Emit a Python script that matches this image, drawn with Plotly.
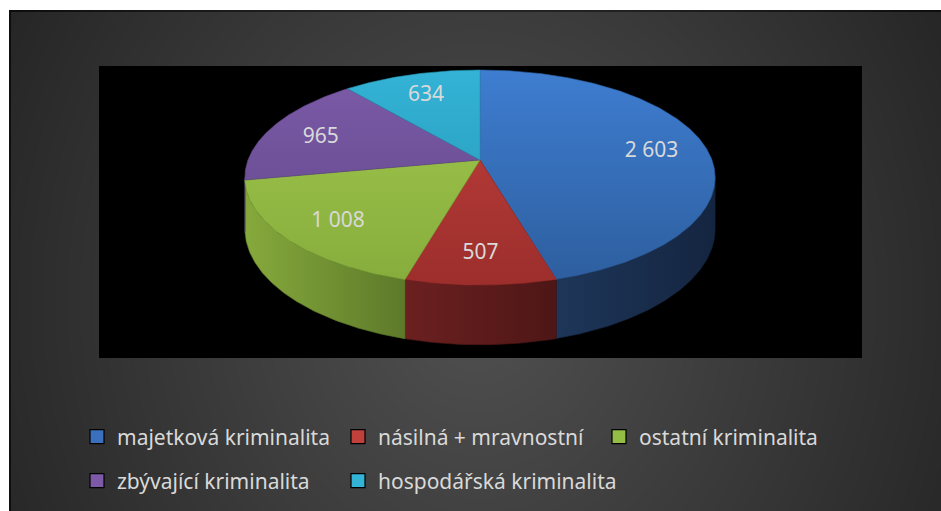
import numpy as np
import plotly.graph_objects as go

# ---------------- data ----------------
categories = ["majetková kriminalita", "násilná + mravnostní", "ostatní kriminalita",
              "zbývající kriminalita", "hospodářská kriminalita"]
values = [2603, 507, 1008, 965, 634]

# ---------------- styles ----------------
top_light = ["#3e7dd0", "#c0403c", "#a2c84e", "#7c5aa8", "#33b3d6"]
top_dark = ["#2d5e9e", "#9c2e2c", "#86ad3c", "#5f4787", "#2592b0"]
wall_light = ["#1e3659", "#6c2020", "#86a93c", "#5a3f80", "#1f7f99"]
wall_dark = ["#142540", "#4e1616", "#5d7a2a", "#3d2a5a", "#15607a"]
legend_colors = ["#3a70bd", "#c0403c", "#94bd45", "#7c5aa8", "#33b3d6"]
legend_slots = ["legend", "legend", "legend", "legend2", "legend3"]
text_color = "#d9d9d9"
FONT = "Noto Sans"

W, H = 941, 511
CX, CY = 480.0, 160.0      # pie vertex on screen
RX, RY = 232.0, 104.7      # top face radii
P = 0.163                  # perspective strength
DEPTH = 50.0               # pie thickness


def project(theta, r=1.0, z=0.0):
    theta = np.asarray(theta, dtype=float)
    u = r * np.sin(theta)
    v = -r * np.cos(theta)
    s = 1.0 / (1.0 - P * v)
    return CX + RX * u * s, CY + RY * v * s + z * s


# silhouette extremes (front-facing wall range)
grid = np.linspace(0, 2 * np.pi, 3601)
gx, _ = project(grid)
th_right = grid[np.argmax(gx)]
th_left = grid[np.argmin(gx)]

total = float(sum(values))
bounds = np.concatenate([[0.0], np.cumsum(values) / total * 2 * np.pi])

fig = go.Figure()

# ---------------- background (decoration) ----------------
shapes = []
shapes.append(dict(type="rect", xref="x", yref="y", x0=10, y0=11, x1=W + 5, y1=H + 5,
                   fillcolor="#232323", line=dict(color="#0a0a0a", width=2), layer="below"))
N = 45
bx, by, brx, bry = 478, 300, 560, 640
for k in range(N):
    f = 1 - k / N
    shapes.append(dict(type="circle", xref="x", yref="y",
                       x0=bx - brx * f, x1=bx + brx * f, y0=by - bry * f, y1=by + bry * f,
                       fillcolor="rgba(255,255,255,0.0066)", line=dict(width=0), layer="below"))
shapes.append(dict(type="rect", xref="x", yref="y", x0=99, y0=66, x1=862, y1=358,
                   fillcolor="black", line=dict(width=0), layer="below"))

# ---------------- walls ----------------
wall_top = CY - RY / (1 + P)
for i, cat in enumerate(categories):
    a0, a1 = bounds[i], bounds[i + 1]
    lo, hi = max(a0, th_right), min(a1, th_left)
    if hi <= lo:
        continue
    n = max(4, int((hi - lo) * 180 / np.pi * 2))
    th = np.linspace(lo, hi, n)
    xt, yt = project(th)
    xb, yb = project(th[::-1], z=DEPTH)
    xs = np.concatenate([xt, xb, xt[:1]])
    ys = np.concatenate([yt, yb, yt[:1]])
    fig.add_trace(go.Scatter(
        x=xs, y=ys, mode="lines", fill="toself",
        line=dict(color=wall_dark[i], width=0.6),
        fillgradient=dict(type="horizontal",
                          colorscale=[[0, wall_light[i]], [1, wall_dark[i]]]),
        hoverinfo="skip", showlegend=False))

# ---------------- top faces ----------------
front_y = CY + RY / (1 - P)
for i, cat in enumerate(categories):
    a0, a1 = bounds[i], bounds[i + 1]
    n = max(6, int((a1 - a0) * 180 / np.pi * 2))
    th = np.linspace(a0, a1, n)
    xa, ya = project(th)
    xs = np.concatenate([[CX], xa, [CX]])
    ys = np.concatenate([[CY], ya, [CY]])
    fig.add_trace(go.Scatter(
        x=xs, y=ys, mode="lines", fill="toself",
        line=dict(color=top_dark[i], width=0.6),
        fillgradient=dict(type="vertical", start=wall_top, stop=front_y,
                          colorscale=[[0, top_light[i]], [1, top_dark[i]]]),
        name=cat, hoverinfo="skip", showlegend=False))

# ---------------- data labels ----------------
mids = (bounds[:-1] + bounds[1:]) / 2
lx, ly = project(mids, r=0.76)
labels = [f"{v:,}".replace(",", " ") for v in values]
fig.add_trace(go.Scatter(x=lx, y=ly + 3, mode="text", text=labels,
                         textfont=dict(family=FONT, size=21, color=text_color),
                         hoverinfo="skip", showlegend=False))

# ---------------- legend entries ----------------
for i, cat in enumerate(categories):
    fig.add_trace(go.Scatter(
        x=[None], y=[None], mode="markers", name=cat,
        marker=dict(symbol="square", size=14, color=legend_colors[i],
                    line=dict(color="black", width=1.2)),
        legend=legend_slots[i]))

leg_common = dict(orientation="h", xanchor="left", yanchor="middle",
                  entrywidthmode="pixels",
                  bgcolor="rgba(0,0,0,0)", font=dict(family=FONT, size=21, color=text_color),
                  traceorder="normal", itemclick=False, itemdoubleclick=False)

COL = 261
fig.update_layout(
    width=W, height=H,
    margin=dict(l=0, r=0, t=0, b=0),
    paper_bgcolor="white", plot_bgcolor="rgba(0,0,0,0)",
    xaxis=dict(range=[0, W], visible=False, fixedrange=True),
    yaxis=dict(range=[H, 0], visible=False, fixedrange=True),
    shapes=shapes,
    showlegend=True,
    legend=dict(x=77 / W, y=1 - 437 / H, entrywidth=216, **leg_common),
    legend2=dict(x=77 / W, y=1 - 481 / H, **leg_common),
    legend3=dict(x=(77 + COL) / W, y=1 - 481 / H, **leg_common),
)

fig.write_html("out.html", config={"displayModeBar": False},
               post_script="document.body.style.margin='0';document.body.style.overflow='hidden';")
